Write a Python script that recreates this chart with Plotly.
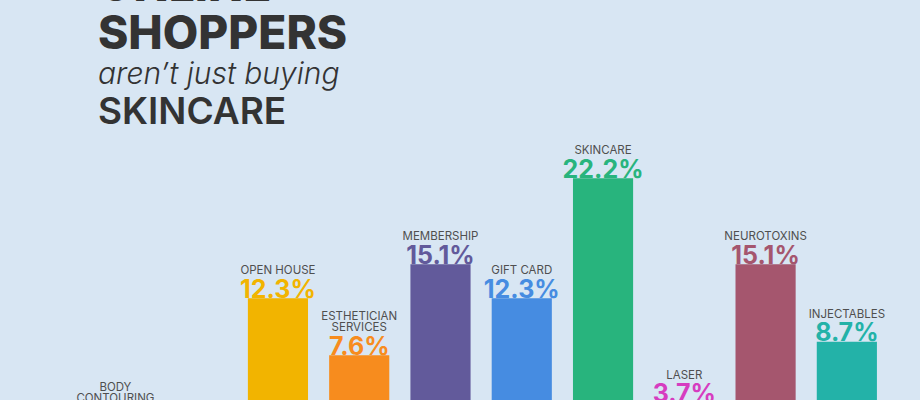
import plotly.graph_objects as go

# ---- data ----
categories = ["BODY CONTOURING", "PACKAGES", "OPEN HOUSE", "ESTHETICIAN SERVICES",
              "MEMBERSHIP", "GIFT CARD", "SKINCARE", "LASER", "NEUROTOXINS", "INJECTABLES"]
label_lines = [["BODY", "CONTOURING"], ["PACKAGES"], ["OPEN HOUSE"], ["ESTHETICIAN", "SERVICES"],
               ["MEMBERSHIP"], ["GIFT CARD"], ["SKINCARE"], ["LASER"], ["NEUROTOXINS"], ["INJECTABLES"]]
shares = [1.8, 1.2, 12.3, 7.6, 15.1, 12.3, 22.2, 3.7, 15.1, 8.7]
bar_colors = ["#e0474c", "#8a8a8a", "#f2b400", "#f78c1e", "#625a9b",
              "#468ce1", "#28b47d", "#d63cc0", "#a5566e", "#23b2a8"]

BG = "#d8e6f3"
TXT = "#333333"
LABEL = "#4f4f4f"

value_text = [f"<span style='font-size:25px'>{v:.1f}%</span>" for v in shares]
label_text = ["<br>".join(f"<span style='font-size:11.5px'>{ln}</span>" for ln in lines)
              for lines in label_lines]

fig = go.Figure()
fig.add_trace(go.Bar(
    x=categories, y=shares,
    marker=dict(color=bar_colors, line=dict(width=0)),
    hoverinfo="x+y",
))
# category labels (lifted above the values by invisible markers)
fig.add_trace(go.Scatter(
    x=categories, y=shares, mode="text+markers",
    marker=dict(size=33, opacity=0),
    text=label_text, textposition="top center",
    textfont=dict(family="Inter", size=8.5, color=LABEL),
    hoverinfo="skip",
))
# values, sitting on the bar tops
fig.add_trace(go.Scatter(
    x=categories, y=shares, mode="text",
    text=value_text, textposition="top center",
    textfont=dict(family="Inter", size=2, weight=700, color=bar_colors),
    hoverinfo="skip",
))

fig.add_annotation(xref="paper", yref="paper", x=96/920, y=1 + 16/400, xanchor="left", yanchor="middle",
                   text="ONLINE", showarrow=False,
                   font=dict(family="Inter", size=46, weight=800, color=TXT))
fig.add_annotation(xref="paper", yref="paper", x=96/920, y=1 - 32/400, xanchor="left", yanchor="middle",
                   text="SHOPPERS", showarrow=False,
                   font=dict(family="Inter", size=46, weight=800, color=TXT))
fig.add_annotation(xref="paper", yref="paper", x=96/920, y=1 - 73/400, xanchor="left", yanchor="middle",
                   text="aren\u2019t just buying", showarrow=False,
                   font=dict(family="Inter", size=30, weight=300, style="italic", color=TXT))
fig.add_annotation(xref="paper", yref="paper", x=96/920, y=1 - 110/400, xanchor="left", yanchor="middle",
                   text="SKINCARE", showarrow=False,
                   font=dict(family="Inter", size=37, weight=600, color=TXT))

fig.update_layout(
    width=920, height=400,
    margin=dict(l=0, r=0, t=0, b=0),
    paper_bgcolor=BG, plot_bgcolor=BG,
    showlegend=False,
    bargap=0.26,
    xaxis=dict(range=[-1.42, 9.90], visible=False, fixedrange=True),
    yaxis=dict(range=[3.90, 36.9], visible=False, fixedrange=True),
)

fig.write_html("out.html", config={"displayModeBar": False},
               post_script="document.body.style.margin='0';document.body.style.overflow='hidden';")
